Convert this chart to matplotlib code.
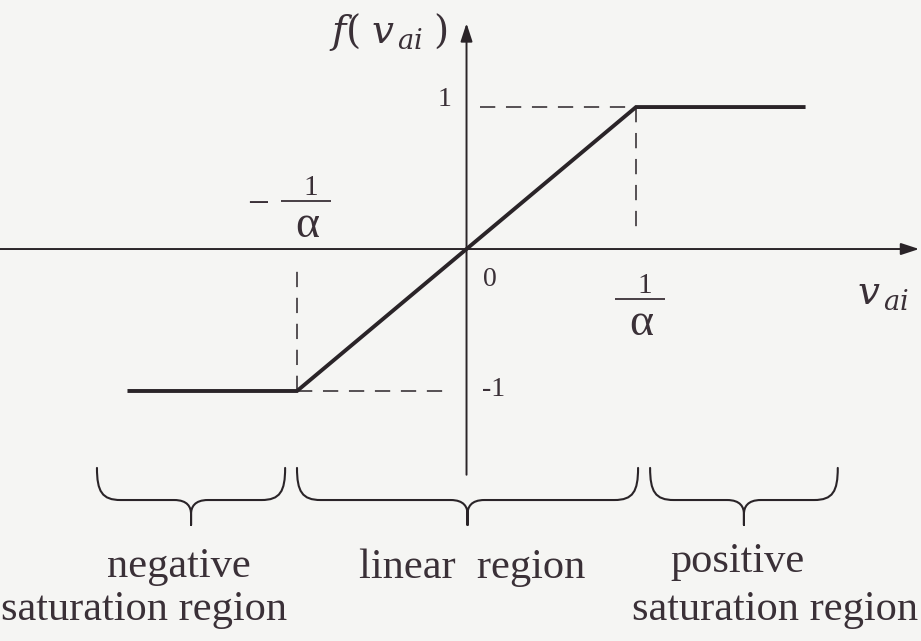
import matplotlib.pyplot as plt
from matplotlib.path import Path
from matplotlib.patches import PathPatch

plt.rcParams['font.family'] = 'Liberation Serif'

INK = '#2a2428'
TXT = '#3a3037'
BG = '#f5f5f3'

# saturation characteristic, v_ai in units of 1/alpha
v_ai = [-2, -1, 1, 2]
f_v = [-1, -1, 1, 1]

# braces under the axis: start and end along v_ai
brace_spans = [(-2.18, -1.07), (-1.0, 1.012), (1.083, 2.19)]
# region labels (text, x, baseline y)
region_labels = [
    ('negative', -1.696, -2.31),
    ('saturation region', -1.90, -2.613),
    ('linear  region', 0.032, -2.317),
    ('positive', 1.596, -2.275),
    ('saturation region', 1.823, -2.613),
]


def brace(ax, x0, x1, y_top, y_mid, y_tip, rx=0.14):
    xc = (x0 + x1) / 2
    verts = [
        (x0, y_top), (x0, y_mid + 0.06), (x0 + 0.03, y_mid), (x0 + rx, y_mid),
        (xc - 0.1, y_mid), (xc - 0.02, y_mid), (xc, y_mid - 0.05), (xc, y_mid - 0.1),
        (xc, y_tip), (xc, y_mid - 0.1),
        (xc, y_mid - 0.05), (xc + 0.02, y_mid), (xc + 0.1, y_mid),
        (x1 - rx, y_mid), (x1 - 0.03, y_mid), (x1, y_mid + 0.06), (x1, y_top),
    ]
    codes = [Path.MOVETO, Path.CURVE4, Path.CURVE4, Path.CURVE4,
             Path.LINETO, Path.CURVE4, Path.CURVE4, Path.CURVE4,
             Path.LINETO, Path.LINETO,
             Path.CURVE4, Path.CURVE4, Path.CURVE4,
             Path.LINETO, Path.CURVE4, Path.CURVE4, Path.CURVE4]
    ax.add_patch(PathPatch(Path(verts, codes), fill=False, ec=INK, lw=1.5,
                           capstyle='round', joinstyle='round'))


def fraction(ax, x, y_bar, color=TXT):
    # "1 over alpha" stacked by hand so the alpha keeps its full size
    ax.text(x + 0.03, y_bar + 0.045, '1', ha='center', va='baseline',
            fontsize=21, color=color)
    ax.plot([x - 0.148, x + 0.148], [y_bar, y_bar], color=color, lw=1.3,
            solid_capstyle='butt')
    ax.text(x + 0.01, y_bar - 0.255, '\u03b1', ha='center', va='baseline',
            fontsize=33, color=color)


fig = plt.figure(figsize=(9.21, 6.41), dpi=100, facecolor=BG)
ax = fig.add_axes([0, 0, 1, 1])
ax.set_xlim(-2.752, 2.681)
ax.set_ylim(-2.761, 1.754)
ax.axis('off')

# coordinate axes with arrow heads
arrow = dict(arrowstyle='-|>,head_length=1.1,head_width=0.36', lw=1.4,
             color=INK, shrinkA=0, shrinkB=0)
ax.annotate('', xy=(2.67, 0), xytext=(-2.752, 0), arrowprops=arrow)
ax.annotate('', xy=(0, 1.59), xytext=(0, -1.59), arrowprops=arrow)

# guide lines
dash = dict(color=INK, lw=1.1, ls=(0, (10, 7)))
ax.plot([0.08, 1], [1, 1], **dash)
ax.plot([1, 1], [1, 0.1], **dash)
ax.plot([-1, -1], [-1, -0.11], **dash)
ax.plot([-1, -0.085], [-1, -1], **dash)

# the characteristic itself
ax.plot(v_ai, f_v, color=INK, lw=2.8, solid_joinstyle='miter',
        solid_capstyle='butt')

# labels
ax.text(-0.109, 1.45, r'$f(\;v_{\,ai}\;)$', ha='right', va='baseline',
        fontsize=28, color=TXT, math_fontfamily='dejavuserif')
ax.text(2.304, -0.387, r'$v_{\,ai}$', ha='left', va='baseline',
        fontsize=28, color=TXT, math_fontfamily='dejavuserif')
ax.text(-0.09, 1.05, '1', ha='right', va='center', fontsize=20, color=TXT)
ax.text(0.091, -0.993, '-1', ha='left', va='center', fontsize=20, color=TXT)
ax.text(0.139, -0.218, '0', ha='center', va='center', fontsize=20, color=TXT)
fraction(ax, 1.021, -0.352)
fraction(ax, -0.947, 0.338)
ax.text(-1.23, 0.338, '\u2212', ha='center', va='center_baseline',
        fontsize=28, color=TXT)

for x0, x1 in brace_spans:
    brace(ax, x0, x1, -1.542, -1.768, -1.944)

for txt, x, y in region_labels:
    ax.text(x, y, txt, ha='center', va='baseline', fontsize=30.5, color=TXT)

fig.savefig('out.png', dpi=100, facecolor=BG)
